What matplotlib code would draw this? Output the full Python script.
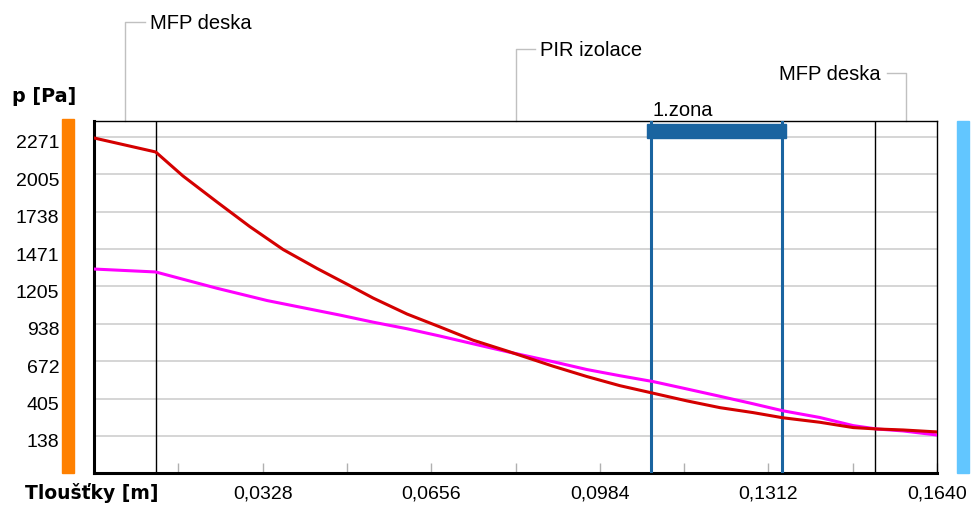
import matplotlib.pyplot as plt
import matplotlib.transforms as mtransforms
from matplotlib.patches import Rectangle

# thickness coordinate [m] and pressures [Pa]
x_sat = [0, 0.012, 0.0173, 0.0239, 0.0303, 0.0368, 0.0434, 0.0498, 0.0543, 0.0609,
         0.0673, 0.0737, 0.0803, 0.0893, 0.0959, 0.1023, 0.1088, 0.1154, 0.1218,
         0.1282, 0.134, 0.1412, 0.1477, 0.1523, 0.1574, 0.164]
p_sat = [2264, 2164, 1993, 1808, 1632, 1468, 1333, 1210, 1122, 1008,
         916, 822, 745, 636, 562, 497, 443, 388, 340,
         305, 268, 236, 198, 188, 181, 167]

x_par = [0, 0.012, 0.0239, 0.0337, 0.0479, 0.0543, 0.0609, 0.0673, 0.0737, 0.0803,
         0.0893, 0.0959, 0.1023, 0.1088, 0.1154, 0.1218, 0.1282, 0.134, 0.1412,
         0.1477, 0.1523, 0.1574, 0.164]
p_par = [1329, 1308, 1192, 1104, 1000, 950, 903, 851, 796, 740,
         668, 612, 568, 526, 473, 421, 368, 318, 270,
         212, 188, 174, 145]

layer_bounds = [0, 0.012, 0.152, 0.164]
layer_names = ['MFP deska', 'PIR izolace', 'MFP deska']
zone = (0.1084, 0.1338)
zone_name = '1.zona'

y_ticks = [138, 405, 672, 938, 1205, 1471, 1738, 2005, 2271]
x_ticks = [0.0164 * k for k in range(1, 11)]
x_labels = ['', '0,0328', '', '0,0656', '', '0,0984', '', '0,1312', '', '0,1640']

plt.rcParams['font.family'] = ['Liberation Sans', 'DejaVu Sans']

fig = plt.figure(figsize=(9.72, 5.06), dpi=100)
ax = fig.add_axes([94 / 972, 32 / 506, 843 / 972, 352 / 506])

ax.set_xlim(0, 0.164)
ax.set_ylim(-126, 2385)

ax.set_yticks(y_ticks)
ax.set_yticklabels([str(v) for v in y_ticks], fontsize=14)
ax.tick_params(axis='y', length=0, pad=25)
# labels in the original sit a few pixels below their grid lines
shift = mtransforms.ScaledTranslation(0, -0.04, fig.dpi_scale_trans)
for lbl in ax.get_yticklabels():
    lbl.set_transform(lbl.get_transform() + shift)
ax.set_xticks(x_ticks)
ax.set_xticklabels(x_labels, fontsize=14)
ax.tick_params(axis='x', direction='in', length=7, width=1, color='#b0b0b0', pad=8)
ax.grid(axis='y', color='#cacaca', lw=1.1)
ax.set_axisbelow(True)

for side in ['left', 'bottom']:
    ax.spines[side].set_linewidth(2.2)
for side in ['top', 'right']:
    ax.spines[side].set_linewidth(1.0)

# layer boundaries
for b in layer_bounds[1:-1]:
    ax.axvline(b, color='black', lw=1.0, zorder=2)

# zone
for z in zone:
    ax.axvline(z, color='#1a64a0', lw=2.2, zorder=3)
trans = mtransforms.blended_transform_factory(ax.transData, ax.transAxes)
ax.add_patch(Rectangle((zone[0] - 0.0008, 0.952), zone[1] - zone[0] + 0.0016, 0.039,
                       transform=trans, color='#1a64a0', zorder=4, clip_on=False))
ax.text(zone[0] + 0.0002, 1.034, zone_name, transform=trans, fontsize=14.5,
        va='center', ha='left')

# curves
ax.plot(x_par, p_par, color='#ff00ff', lw=2.2, zorder=5)
ax.plot(x_sat, p_sat, color='#d40000', lw=2.2, zorder=6)

# layer name leaders
leader_y = [1.281, 1.2045, 1.136]
tail = [0.0039, 0.0038, -0.0037]
for i, name in enumerate(layer_names):
    mid = (layer_bounds[i] + layer_bounds[i + 1]) / 2
    ly = leader_y[i]
    ax.plot([mid, mid, mid + tail[i]], [1.0, ly, ly], color='#c0c0c0', lw=1.0,
            transform=trans, clip_on=False)
    if tail[i] > 0:
        ax.text(mid + tail[i] + 0.001, ly, name, transform=trans, fontsize=14.5,
                va='center', ha='left')
    else:
        ax.text(mid + tail[i] - 0.0013, ly, name, transform=trans, fontsize=14.5,
                va='center', ha='right')

# boundary colour strips
ax.add_patch(Rectangle((-0.038, 0), 0.0142, 1.005, transform=ax.transAxes,
                       color='#ff8000', clip_on=False))
ax.add_patch(Rectangle((1.0237, 0), 0.0142, 1.0, transform=ax.transAxes,
                       color='#62c6ff', clip_on=False))

fig.text(25 / 972, 1 - 493 / 506, 'Tloušťky [m]', fontsize=13.5, fontweight='bold',
         family='DejaVu Sans', va='center', ha='left')
fig.text(12 / 972, 1 - 97 / 506, 'p [Pa]', fontsize=13.8, fontweight='bold',
         family='DejaVu Sans', va='center', ha='left')

plt.savefig('out.png', dpi=100)
